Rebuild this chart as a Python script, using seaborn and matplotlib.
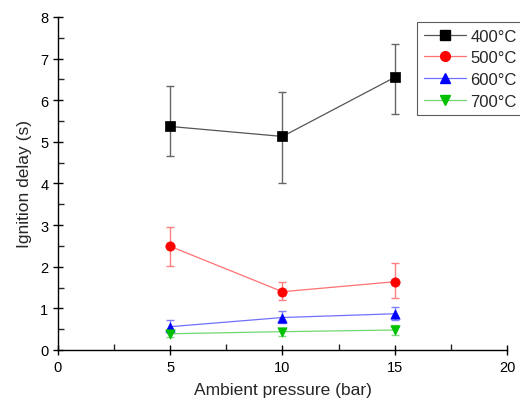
import numpy as np
import pandas as pd
import matplotlib
matplotlib.use("Agg")
import matplotlib.pyplot as plt
from matplotlib.lines import Line2D
from matplotlib.ticker import MultipleLocator
import seaborn as sns

# data
pressure = [5, 10, 15]
temps = ["400°C", "500°C", "600°C", "700°C"]
delay_400 = [5.37, 5.13, 6.55]
delay_500 = [2.49, 1.40, 1.64]
delay_600 = [0.56, 0.78, 0.87]
delay_700 = [0.39, 0.44, 0.48]
# error bars (lower, upper)
err_lo_400 = [0.72, 1.12, 0.87]
err_hi_400 = [0.98, 1.06, 0.80]
err_lo_500 = [0.47, 0.20, 0.40]
err_hi_500 = [0.47, 0.23, 0.44]
err_lo_600 = [0.14, 0.14, 0.15]
err_hi_600 = [0.15, 0.15, 0.16]
err_lo_700 = [0.09, 0.10, 0.11]
err_hi_700 = [0.09, 0.10, 0.11]

delays = [delay_400, delay_500, delay_600, delay_700]
errs_lo = [err_lo_400, err_lo_500, err_lo_600, err_lo_700]
errs_hi = [err_hi_400, err_hi_500, err_hi_600, err_hi_700]
markers = ["s", "o", "^", "v"]
solid = ["#000000", "#ff0000", "#0000ff", "#00c000"]
light = ["#555555", "#ff7070", "#7070ff", "#70d870"]
errcol = ["#666666", "#ff8080", "#8080ff", "#80d880"]

rows = []
for t, d, lo, hi in zip(temps, delays, errs_lo, errs_hi):
    for p, v, a, b in zip(pressure, d, lo, hi):
        rows.append({"pressure": p, "delay": v, "lo": a, "hi": b, "temp": t})
df = pd.DataFrame(rows)

sns.set_style("ticks")
plt.rcParams["font.family"] = ["Liberation Sans", "DejaVu Sans"]

fig = plt.figure(figsize=(5.2, 4.06), dpi=100)
ax = fig.add_axes([0.1115, 0.1355, 0.8635, 0.8202])

handles = []
for i, t in enumerate(temps):
    sub = df[df["temp"] == t]
    ax.errorbar(sub["pressure"], sub["delay"], yerr=[sub["lo"], sub["hi"]],
                fmt="none", ecolor=errcol[i], elinewidth=1, capsize=3,
                capthick=1, zorder=2)
    sns.lineplot(data=sub, x="pressure", y="delay", color=light[i], lw=0.9,
                 ax=ax, legend=False, zorder=3)
    sns.scatterplot(data=sub, x="pressure", y="delay", marker=markers[i],
                    color=solid[i], s=45, edgecolor=solid[i], linewidth=0.5,
                    ax=ax, legend=False, zorder=4)
    handles.append(Line2D([], [], color=light[i], lw=0.9, marker=markers[i],
                          markersize=7, markerfacecolor=solid[i],
                          markeredgecolor=solid[i]))

ax.set_xlim(0, 20)
ax.set_ylim(0, 8)
ax.xaxis.set_major_locator(MultipleLocator(5))
ax.xaxis.set_minor_locator(MultipleLocator(2.5))
ax.yaxis.set_major_locator(MultipleLocator(1))
ax.yaxis.set_minor_locator(MultipleLocator(0.5))
ax.tick_params(which="major", direction="inout", length=7, width=1,
               labelsize=10.5, colors="black")
ax.tick_params(which="minor", direction="in", length=4, width=1)
sns.despine(ax=ax)
for sp in ["left", "bottom"]:
    ax.spines[sp].set_color("black")
    ax.spines[sp].set_linewidth(1)

ax.set_xlabel("Ambient pressure (bar)", fontsize=12.5, labelpad=6)
ax.set_ylabel("Ignition delay (s)", fontsize=12.5, labelpad=6)

leg = ax.legend(handles, temps, loc="upper left", bbox_to_anchor=(0.8, 0.985),
                fontsize=12, frameon=True, fancybox=False, handlelength=2.5,
                handletextpad=0.3, labelspacing=0.4, borderpad=0.4,
                borderaxespad=0)
leg.get_frame().set_edgecolor("#333333")
leg.get_frame().set_linewidth(0.8)

fig.savefig("out.png", dpi=100)
